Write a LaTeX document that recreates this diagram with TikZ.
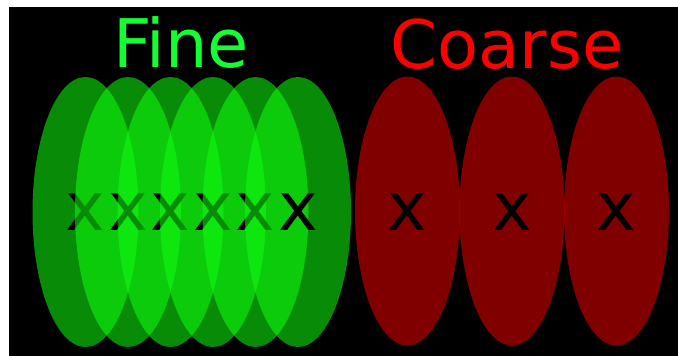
\documentclass[tikz,border=0pt]{standalone}
\usepackage{fontspec}
\setmainfont{DejaVu Sans}
\definecolor{finegreen}{RGB}{15,255,15}
\definecolor{titlegreen}{RGB}{20,255,50}
\definecolor{coarsered}{RGB}{255,0,0}
\begin{document}
\begin{tikzpicture}[x=1pt,y=-1pt,
  greenell/.style={fill=finegreen,fill opacity=0.55,draw=none},
  redell/.style={fill=coarsered,fill opacity=0.5,draw=none},
  mark x/.style={font=\fontsize{67}{67}\selectfont,text=black,inner sep=0pt,anchor=center},
  titletext/.style={font=\fontsize{67}{67}\selectfont,inner sep=0pt,anchor=base}]
\useasboundingbox (0,0) rectangle (678,356);
\fill[white] (0,0) rectangle (678,356);
\fill[black] (9,7) rectangle (678,356);
\node[titletext,text=titlegreen] (fine) at (181,67) {Fine};
\node[titletext,text=coarsered] (coarse) at (507,68) {Coarse};
\foreach \i/\cx in {1/85.5,2/128,3/170.5,4/213,5/255.5,6/298}{
  \fill[greenell] (\cx,212) ellipse [x radius=53, y radius=135];
  \node[mark x] (gx\i) at (\cx,212.5) {x};
}
\foreach \i/\cx in {1/407.5,2/512,3/616.5}{
  \fill[redell] (\cx,211) ellipse [x radius=52.5, y radius=134.5];
  \node[mark x] (rx\i) at (\cx,212.5) {x};
}
\end{tikzpicture}
\end{document}
